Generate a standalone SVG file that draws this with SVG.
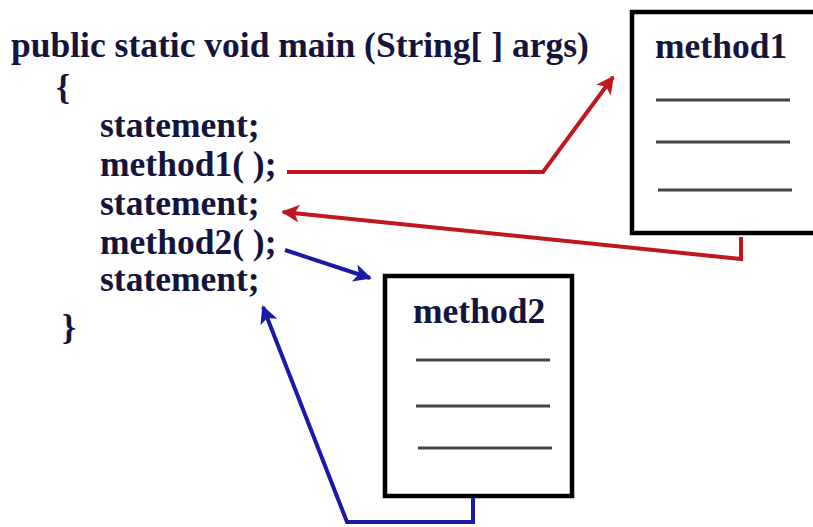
<svg xmlns="http://www.w3.org/2000/svg" width="813" height="527" viewBox="0 0 813 527">
<style>
.code{font-family:"Liberation Serif","Times New Roman",serif;font-weight:bold;font-size:35.5px;fill:#14143c}
.box{fill:#fff;stroke:#000;stroke-width:4.5}
.rule{stroke:#444;stroke-width:3}
.red{fill:none;stroke:#c01820;stroke-width:4;stroke-linejoin:miter}
.blue{fill:none;stroke:#1a1aa6;stroke-width:4;stroke-linejoin:miter}
</style>
<defs>
<marker id="ahr" viewBox="0 0 10 10" refX="9" refY="5" markerWidth="5" markerHeight="4.5" orient="auto" markerUnits="strokeWidth"><path d="M0,0 L10,5 L0,10 L2.5,5 z" fill="#c01820"/></marker>
<marker id="ahb" viewBox="0 0 10 10" refX="9" refY="5" markerWidth="5" markerHeight="4.5" orient="auto" markerUnits="strokeWidth"><path d="M0,0 L10,5 L0,10 L2.5,5 z" fill="#1a1aa6"/></marker>
</defs>
<rect width="813" height="527" fill="#fff"/>
<g id="main">
<text class="code" x="11" y="57">public static void main (String[ ] args)</text>
<text class="code" x="56" y="99">{</text>
<text class="code" x="100" y="137">statement;</text>
<text class="code" x="100" y="176">method1( );</text>
<text class="code" x="100" y="215">statement;</text>
<text class="code" x="100" y="254">method2( );</text>
<text class="code" x="100" y="291">statement;</text>
<text class="code" x="62" y="339">}</text>
</g>
<g id="method1">
<rect class="box" x="632" y="12" width="190" height="221"/>
<text class="code" x="655" y="58">method1</text>
<line class="rule" x1="656" y1="100" x2="790" y2="100"/>
<line class="rule" x1="656" y1="142" x2="790" y2="142"/>
<line class="rule" x1="658" y1="190" x2="792" y2="190"/>
</g>
<g id="method2">
<rect class="box" x="385" y="276" width="187" height="220"/>
<text class="code" x="413" y="323">method2</text>
<line class="rule" x1="416" y1="360" x2="550" y2="360"/>
<line class="rule" x1="416" y1="406" x2="550" y2="406"/>
<line class="rule" x1="418" y1="448" x2="552" y2="448"/>
</g>
<g id="connectors">
<polyline class="red" points="287,172 543,172 613,77" marker-end="url(#ahr)"/>
<polyline class="red" points="741,237 741,259 283,212" marker-end="url(#ahr)"/>
<polyline class="blue" points="285,250 370,278" marker-end="url(#ahb)"/>
<polyline class="blue" points="473,498 473,522 347,522 263,307" marker-end="url(#ahb)"/>
</g>
</svg>
